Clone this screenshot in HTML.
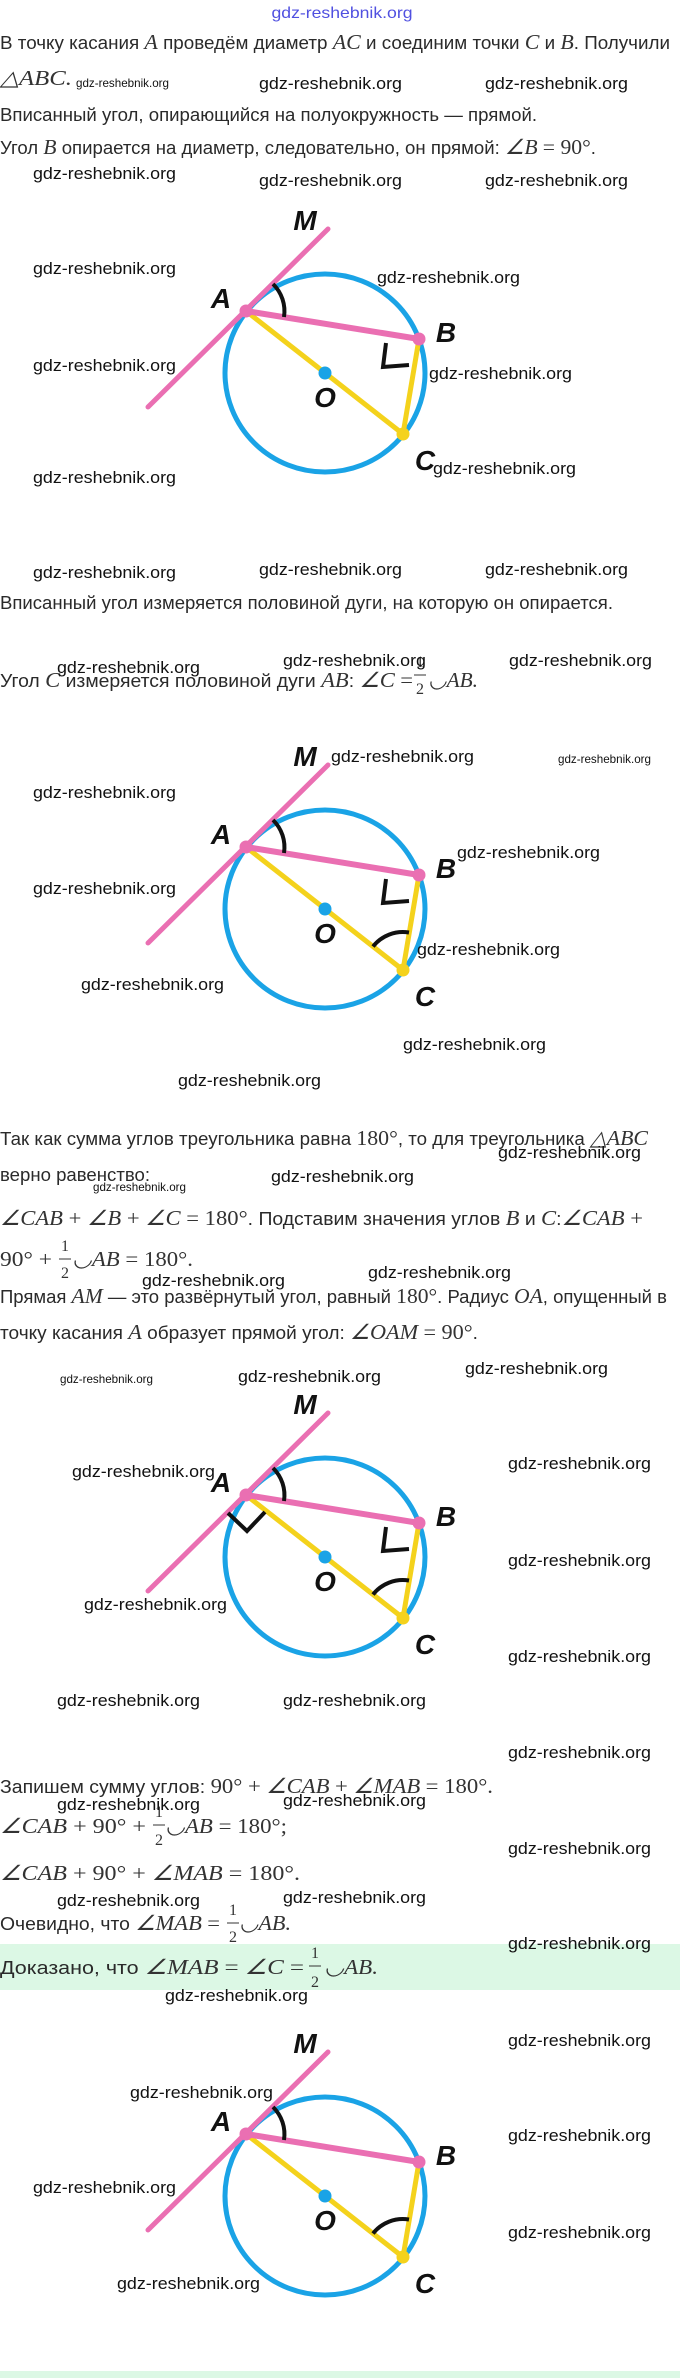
<!DOCTYPE html>
<html><head><meta charset="utf-8"><style>
html,body{margin:0;padding:0;background:#fff;width:680px;height:2378px;overflow:hidden}
svg{display:block}
.t{font-family:"Liberation Sans",sans-serif;font-size:18px;fill:#2a2a2a;font-style:normal}
.m{font-family:"Liberation Serif",serif;font-style:italic;font-size:21px;fill:#333}
.n{font-family:"Liberation Serif",serif;font-size:21px;fill:#333;font-style:normal}
.f{font-family:"Liberation Serif",serif;font-size:16px;fill:#333;font-style:normal}
.w{font-family:"Liberation Sans",sans-serif;font-size:17px;fill:#111}
.ws{font-family:"Liberation Sans",sans-serif;font-size:12px;fill:#111}
.lb{font-family:"Liberation Sans Narrow","Liberation Sans",sans-serif;font-weight:bold;font-style:italic;font-size:28px;fill:#111}
</style></head><body>
<svg width="680" height="2378" viewBox="0 0 680 2378" xmlns="http://www.w3.org/2000/svg">
<defs>
<g id="base">
<ellipse cx="325" cy="0" rx="100" ry="99" fill="none" stroke="#1aa3e6" stroke-width="5"/>
<line x1="328" y1="-144" x2="148" y2="34" stroke="#ea6fb2" stroke-width="5" stroke-linecap="round"/>
<line x1="246" y1="-62" x2="403" y2="61" stroke="#f4d21c" stroke-width="5"/>
<line x1="419" y1="-34" x2="403" y2="61" stroke="#f4d21c" stroke-width="5"/>
<line x1="246" y1="-62" x2="419" y2="-34" stroke="#ea6fb2" stroke-width="6"/>
<circle cx="246" cy="-62" r="6.5" fill="#ea6fb2"/>
<circle cx="419" cy="-34" r="6.5" fill="#ea6fb2"/>
<circle cx="403" cy="61" r="6.5" fill="#f4d21c"/>
<circle cx="325" cy="0" r="6.5" fill="#1aa3e6"/>
<path d="M273 -89 A38 38 0 0 1 284 -56" fill="none" stroke="#111" stroke-width="4"/>
<text class="lb" x="305" y="-143" text-anchor="middle">M</text>
<text class="lb" x="221" y="-65" text-anchor="middle">A</text>
<text class="lb" x="446" y="-31" text-anchor="middle">B</text>
<text class="lb" x="325" y="34" text-anchor="middle">O</text>
<text class="lb" x="425" y="97" text-anchor="middle">C</text>
</g>
<path id="rb" d="M386 -30 L383 -6 L409 -8" fill="none" stroke="#111" stroke-width="4"/>
<path id="ac" d="M373 37.5 A38 38 0 0 1 409 23.5" fill="none" stroke="#111" stroke-width="4"/>
<path id="ra" d="M228 -44 L247 -26 L265 -45" fill="none" stroke="#111" stroke-width="4"/>
</defs>

<rect x="0" y="1944" width="680" height="46" fill="#dcf8e5"/>
<rect x="0" y="2371" width="680" height="7" fill="#dcf8e5"/>

<text x="342" y="18" text-anchor="middle" font-family="Liberation Sans Narrow,Liberation Sans,sans-serif" font-size="16" fill="#5050e0" textLength="141" lengthAdjust="spacingAndGlyphs">gdz-reshebnik.org</text>

<text class="t" x="0" y="49" textLength="670" lengthAdjust="spacingAndGlyphs">В точку касания <tspan class="m">A</tspan> проведём диаметр <tspan class="m">AC</tspan> и соединим точки <tspan class="m">C</tspan> и <tspan class="m">B</tspan>. Получили</text>
<text class="m" x="0" y="85" textLength="72" lengthAdjust="spacingAndGlyphs">△ABC.</text>
<text class="t" x="0" y="121" textLength="537" lengthAdjust="spacingAndGlyphs">Вписанный угол, опирающийся на полуокружность — прямой.</text>
<text class="t" x="0" y="154" textLength="596" lengthAdjust="spacingAndGlyphs">Угол <tspan class="m">B</tspan> опирается на диаметр, следовательно, он прямой: <tspan class="m">∠B</tspan> <tspan class="n">= 90°</tspan>.</text>

<g transform="translate(0,373)"><use href="#base"/><use href="#rb"/></g>

<text class="t" x="0" y="609" textLength="613" lengthAdjust="spacingAndGlyphs">Вписанный угол измеряется половиной дуги, на которую он опирается.</text>
<text class="t" x="0" y="687" textLength="413" lengthAdjust="spacingAndGlyphs">Угол <tspan class="m">C</tspan> измеряется половиной дуги <tspan class="m">AB</tspan>: <tspan class="m">∠C</tspan> <tspan class="n">=</tspan></text>
<text class="f" x="420" y="667" text-anchor="middle">1</text><line x1="414" y1="675" x2="426" y2="675" stroke="#333" stroke-width="1"/><text class="f" x="420" y="694" text-anchor="middle">2</text>
<text class="m" x="428" y="687" textLength="50" lengthAdjust="spacingAndGlyphs">◡AB.</text>

<g transform="translate(0,909)"><use href="#base"/><use href="#rb"/><use href="#ac"/></g>

<text class="t" x="0" y="1145" textLength="648" lengthAdjust="spacingAndGlyphs">Так как сумма углов треугольника равна <tspan class="n">180°</tspan>, то для треугольника <tspan class="m">△ABC</tspan></text>
<text class="t" x="0" y="1181" textLength="150" lengthAdjust="spacingAndGlyphs">верно равенство:</text>
<text class="m" x="0" y="1225" textLength="643" lengthAdjust="spacingAndGlyphs">∠CAB <tspan class="n">+</tspan> ∠B <tspan class="n">+</tspan> ∠C <tspan class="n">= 180°</tspan><tspan class="t">. Подставим значения углов </tspan>B<tspan class="t"> и </tspan>C<tspan class="t">:</tspan>∠CAB <tspan class="n">+</tspan></text>
<text class="n" x="0" y="1266" textLength="52" lengthAdjust="spacingAndGlyphs">90° +</text>
<text class="f" x="65" y="1251" text-anchor="middle">1</text><line x1="59" y1="1259" x2="71" y2="1259" stroke="#333" stroke-width="1"/><text class="f" x="65" y="1278" text-anchor="middle">2</text>
<text class="m" x="72" y="1266" textLength="121" lengthAdjust="spacingAndGlyphs">◡AB <tspan class="n">= 180°.</tspan></text>
<text class="t" x="0" y="1303" textLength="667" lengthAdjust="spacingAndGlyphs">Прямая <tspan class="m">AM</tspan> — это развёрнутый угол, равный <tspan class="n">180°</tspan>. Радиус <tspan class="m">OA</tspan>, опущенный в</text>
<text class="t" x="0" y="1339" textLength="478" lengthAdjust="spacingAndGlyphs">точку касания <tspan class="m">A</tspan> образует прямой угол: <tspan class="m">∠OAM</tspan> <tspan class="n">= 90°</tspan>.</text>

<g transform="translate(0,1557)"><use href="#base"/><use href="#rb"/><use href="#ac"/><use href="#ra"/></g>

<text class="t" x="0" y="1793" textLength="493" lengthAdjust="spacingAndGlyphs">Запишем сумму углов: <tspan class="n">90° +</tspan> <tspan class="m">∠CAB</tspan> <tspan class="n">+</tspan> <tspan class="m">∠MAB</tspan> <tspan class="n">= 180°.</tspan></text>
<text class="m" x="0" y="1833" textLength="146" lengthAdjust="spacingAndGlyphs">∠CAB <tspan class="n">+ 90° +</tspan></text>
<text class="f" x="159" y="1817" text-anchor="middle">1</text><line x1="153" y1="1825" x2="165" y2="1825" stroke="#333" stroke-width="1"/><text class="f" x="159" y="1845" text-anchor="middle">2</text>
<text class="m" x="165" y="1833" textLength="122" lengthAdjust="spacingAndGlyphs">◡AB <tspan class="n">= 180°;</tspan></text>
<text class="m" x="0" y="1880" textLength="300" lengthAdjust="spacingAndGlyphs">∠CAB <tspan class="n">+ 90° +</tspan> ∠MAB <tspan class="n">= 180°.</tspan></text>
<text class="t" x="0" y="1930" textLength="220" lengthAdjust="spacingAndGlyphs">Очевидно, что <tspan class="m">∠MAB</tspan> <tspan class="n">=</tspan></text>
<text class="f" x="233" y="1915" text-anchor="middle">1</text><line x1="227" y1="1923" x2="239" y2="1923" stroke="#333" stroke-width="1"/><text class="f" x="233" y="1942" text-anchor="middle">2</text>
<text class="m" x="239" y="1930" textLength="52" lengthAdjust="spacingAndGlyphs">◡AB.</text>
<text class="t" x="0" y="1974" textLength="304" lengthAdjust="spacingAndGlyphs">Доказано, что <tspan class="m">∠MAB</tspan> <tspan class="n">=</tspan> <tspan class="m">∠C</tspan> <tspan class="n">=</tspan></text>
<text class="f" x="315" y="1958" text-anchor="middle">1</text><line x1="309" y1="1966" x2="321" y2="1966" stroke="#333" stroke-width="1"/><text class="f" x="315" y="1987" text-anchor="middle">2</text>
<text class="m" x="324" y="1974" textLength="54" lengthAdjust="spacingAndGlyphs">◡AB.</text>

<g transform="translate(0,2196)"><use href="#base"/><use href="#ac"/></g>

<g>
<text class="ws" x="76" y="87" textLength="93" lengthAdjust="spacingAndGlyphs">gdz-reshebnik.org</text>
<text class="w" x="259" y="89" textLength="143" lengthAdjust="spacingAndGlyphs">gdz-reshebnik.org</text>
<text class="w" x="485" y="89" textLength="143" lengthAdjust="spacingAndGlyphs">gdz-reshebnik.org</text>
<text class="w" x="33" y="179" textLength="143" lengthAdjust="spacingAndGlyphs">gdz-reshebnik.org</text>
<text class="w" x="259" y="186" textLength="143" lengthAdjust="spacingAndGlyphs">gdz-reshebnik.org</text>
<text class="w" x="485" y="186" textLength="143" lengthAdjust="spacingAndGlyphs">gdz-reshebnik.org</text>
<text class="w" x="33" y="274" textLength="143" lengthAdjust="spacingAndGlyphs">gdz-reshebnik.org</text>
<text class="w" x="377" y="283" textLength="143" lengthAdjust="spacingAndGlyphs">gdz-reshebnik.org</text>
<text class="w" x="33" y="371" textLength="143" lengthAdjust="spacingAndGlyphs">gdz-reshebnik.org</text>
<text class="w" x="429" y="379" textLength="143" lengthAdjust="spacingAndGlyphs">gdz-reshebnik.org</text>
<text class="w" x="33" y="483" textLength="143" lengthAdjust="spacingAndGlyphs">gdz-reshebnik.org</text>
<text class="w" x="433" y="474" textLength="143" lengthAdjust="spacingAndGlyphs">gdz-reshebnik.org</text>
<text class="w" x="33" y="578" textLength="143" lengthAdjust="spacingAndGlyphs">gdz-reshebnik.org</text>
<text class="w" x="259" y="575" textLength="143" lengthAdjust="spacingAndGlyphs">gdz-reshebnik.org</text>
<text class="w" x="485" y="575" textLength="143" lengthAdjust="spacingAndGlyphs">gdz-reshebnik.org</text>
<text class="w" x="57" y="673" textLength="143" lengthAdjust="spacingAndGlyphs">gdz-reshebnik.org</text>
<text class="w" x="283" y="666" textLength="143" lengthAdjust="spacingAndGlyphs">gdz-reshebnik.org</text>
<text class="w" x="509" y="666" textLength="143" lengthAdjust="spacingAndGlyphs">gdz-reshebnik.org</text>
<text class="w" x="331" y="762" textLength="143" lengthAdjust="spacingAndGlyphs">gdz-reshebnik.org</text>
<text class="ws" x="558" y="763" textLength="93" lengthAdjust="spacingAndGlyphs">gdz-reshebnik.org</text>
<text class="w" x="33" y="798" textLength="143" lengthAdjust="spacingAndGlyphs">gdz-reshebnik.org</text>
<text class="w" x="457" y="858" textLength="143" lengthAdjust="spacingAndGlyphs">gdz-reshebnik.org</text>
<text class="w" x="33" y="894" textLength="143" lengthAdjust="spacingAndGlyphs">gdz-reshebnik.org</text>
<text class="w" x="417" y="955" textLength="143" lengthAdjust="spacingAndGlyphs">gdz-reshebnik.org</text>
<text class="w" x="81" y="990" textLength="143" lengthAdjust="spacingAndGlyphs">gdz-reshebnik.org</text>
<text class="w" x="403" y="1050" textLength="143" lengthAdjust="spacingAndGlyphs">gdz-reshebnik.org</text>
<text class="w" x="178" y="1086" textLength="143" lengthAdjust="spacingAndGlyphs">gdz-reshebnik.org</text>
<text class="w" x="498" y="1158" textLength="143" lengthAdjust="spacingAndGlyphs">gdz-reshebnik.org</text>
<text class="ws" x="93" y="1191" textLength="93" lengthAdjust="spacingAndGlyphs">gdz-reshebnik.org</text>
<text class="w" x="271" y="1182" textLength="143" lengthAdjust="spacingAndGlyphs">gdz-reshebnik.org</text>
<text class="w" x="142" y="1286" textLength="143" lengthAdjust="spacingAndGlyphs">gdz-reshebnik.org</text>
<text class="w" x="368" y="1278" textLength="143" lengthAdjust="spacingAndGlyphs">gdz-reshebnik.org</text>
<text class="ws" x="60" y="1383" textLength="93" lengthAdjust="spacingAndGlyphs">gdz-reshebnik.org</text>
<text class="w" x="238" y="1382" textLength="143" lengthAdjust="spacingAndGlyphs">gdz-reshebnik.org</text>
<text class="w" x="465" y="1374" textLength="143" lengthAdjust="spacingAndGlyphs">gdz-reshebnik.org</text>
<text class="w" x="72" y="1477" textLength="143" lengthAdjust="spacingAndGlyphs">gdz-reshebnik.org</text>
<text class="w" x="508" y="1469" textLength="143" lengthAdjust="spacingAndGlyphs">gdz-reshebnik.org</text>
<text class="w" x="508" y="1566" textLength="143" lengthAdjust="spacingAndGlyphs">gdz-reshebnik.org</text>
<text class="w" x="84" y="1610" textLength="143" lengthAdjust="spacingAndGlyphs">gdz-reshebnik.org</text>
<text class="w" x="508" y="1662" textLength="143" lengthAdjust="spacingAndGlyphs">gdz-reshebnik.org</text>
<text class="w" x="57" y="1706" textLength="143" lengthAdjust="spacingAndGlyphs">gdz-reshebnik.org</text>
<text class="w" x="283" y="1706" textLength="143" lengthAdjust="spacingAndGlyphs">gdz-reshebnik.org</text>
<text class="w" x="508" y="1758" textLength="143" lengthAdjust="spacingAndGlyphs">gdz-reshebnik.org</text>
<text class="w" x="57" y="1810" textLength="143" lengthAdjust="spacingAndGlyphs">gdz-reshebnik.org</text>
<text class="w" x="283" y="1806" textLength="143" lengthAdjust="spacingAndGlyphs">gdz-reshebnik.org</text>
<text class="w" x="508" y="1854" textLength="143" lengthAdjust="spacingAndGlyphs">gdz-reshebnik.org</text>
<text class="w" x="57" y="1906" textLength="143" lengthAdjust="spacingAndGlyphs">gdz-reshebnik.org</text>
<text class="w" x="283" y="1903" textLength="143" lengthAdjust="spacingAndGlyphs">gdz-reshebnik.org</text>
<text class="w" x="508" y="1949" textLength="143" lengthAdjust="spacingAndGlyphs">gdz-reshebnik.org</text>
<text class="w" x="165" y="2001" textLength="143" lengthAdjust="spacingAndGlyphs">gdz-reshebnik.org</text>
<text class="w" x="508" y="2046" textLength="143" lengthAdjust="spacingAndGlyphs">gdz-reshebnik.org</text>
<text class="w" x="130" y="2098" textLength="143" lengthAdjust="spacingAndGlyphs">gdz-reshebnik.org</text>
<text class="w" x="508" y="2141" textLength="143" lengthAdjust="spacingAndGlyphs">gdz-reshebnik.org</text>
<text class="w" x="33" y="2193" textLength="143" lengthAdjust="spacingAndGlyphs">gdz-reshebnik.org</text>
<text class="w" x="508" y="2238" textLength="143" lengthAdjust="spacingAndGlyphs">gdz-reshebnik.org</text>
<text class="w" x="117" y="2289" textLength="143" lengthAdjust="spacingAndGlyphs">gdz-reshebnik.org</text>
</g>
</svg>
</body></html>
